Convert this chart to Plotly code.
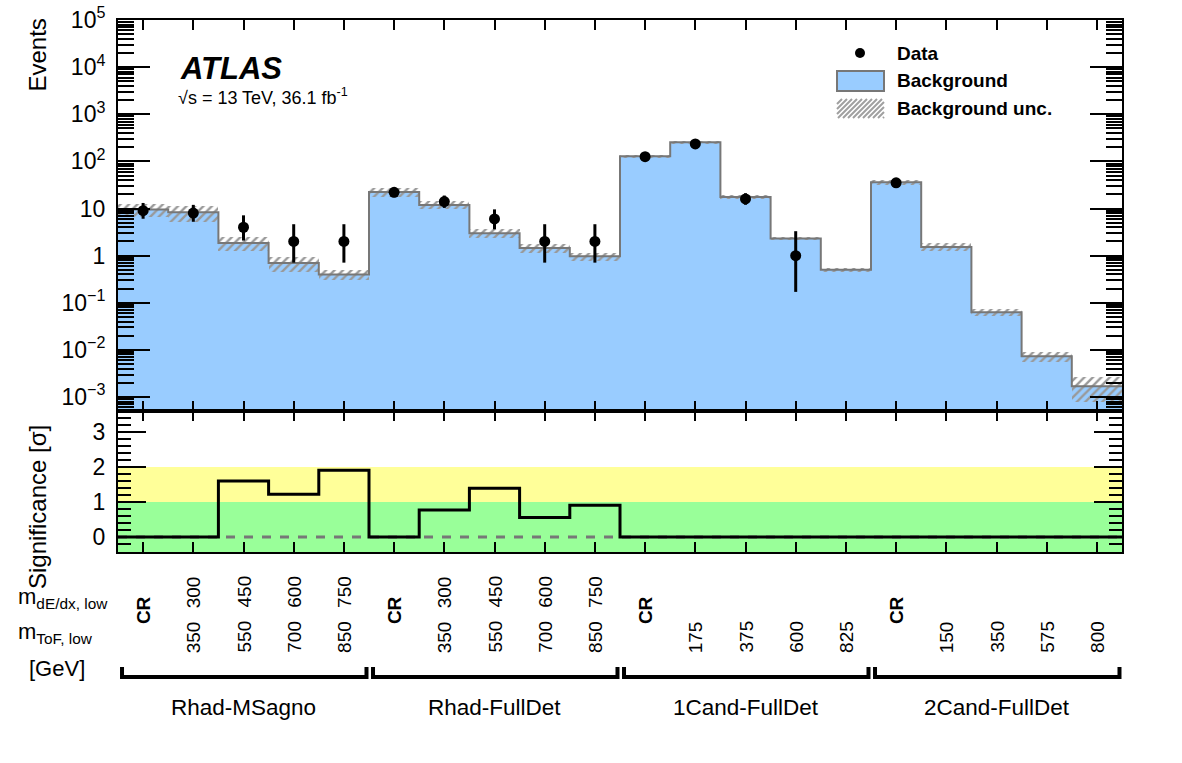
import plotly.graph_objects as go

# ---------------- data ----------------
groups = ["Rhad-MSagno", "Rhad-FullDet", "1Cand-FullDet", "2Cand-FullDet"]
m_dedx_low = ["CR", "300", "450", "600", "750",
              "CR", "300", "450", "600", "750",
              "CR", "", "", "", "",
              "CR", "", "", "", ""]
m_tof_low = ["", "350", "550", "700", "850",
             "", "350", "550", "700", "850",
             "", "175", "375", "600", "825",
             "", "150", "350", "575", "800"]
background = [9.5, 8.3, 1.86, 0.70, 0.40,
              22.5, 11.9, 3.0, 1.46, 0.97,
              128, 254, 17.6, 2.3, 0.50,
              36, 1.53, 0.063, 0.0073, 0.0017]
bkg_unc = [3.0, 3.0, 0.6, 0.25, 0.09,
           5.0, 2.2, 0.6, 0.33, 0.19,
           10, 20, 1.5, 0.2, 0.04,
           5.0, 0.28, 0.011, 0.0018, 0.0009]
data = [9, 8, 4, 2, 2,
        22, 14, 6, 2, 2,
        126, 235, 16, 1, None,
        35, None, None, None, None]
data_err_up = [4.11, 3.95, 3.16, 2.64, 2.64,
               5.77, 4.84, 3.58, 2.64, 2.64,
               12.26, 16.35, 5.09, 2.30, 0,
               6.98, 0, 0, 0, 0]
data_err_dn = [2.94, 2.77, 1.91, 1.29, 1.29,
               4.66, 3.71, 2.38, 1.29, 1.29,
               11.21, 15.32, 3.97, 0.83, 0,
               5.89, 0, 0, 0, 0]
significance = [0, 0, 1.6, 1.22, 1.91,
                0, 0.77, 1.39, 0.56, 0.91,
                0, 0, 0, 0, 0,
                0, 0, 0, 0, 0]
ytick_vals = [1e-3, 1e-2, 1e-1, 1, 10, 1e2, 1e3, 1e4, 1e5]
ytick_text = ["10<sup>\u22123</sup>", "10<sup>\u22122</sup>", "10<sup>\u22121</sup>", "1", "10",
              "10<sup>2</sup>", "10<sup>3</sup>", "10<sup>4</sup>", "10<sup>5</sup>"]

nb = len(background)
centers = [i + 0.5 for i in range(nb)]
edges = list(range(nb + 1))

W, H = 1182, 763
def px(x):
    return x / W
def py(y):
    return 1 - y / H

FONT = "Liberation Sans, Arial, Helvetica, sans-serif"
BLUE = "#99ccff"
GREY = "#777777"
HATCH = "#999999"

fig = go.Figure()

# background fill
fig.add_trace(go.Bar(x=centers, y=background, width=1.0, marker=dict(color=BLUE, line=dict(width=0)),
                     xaxis="x", yaxis="y", showlegend=False, hoverinfo="skip"))
# uncertainty hatch
lo = [b - u for b, u in zip(background, bkg_unc)]
span = [2 * u for u in bkg_unc]
fig.add_trace(go.Bar(x=centers, y=span, base=lo, width=1.0,
                     marker=dict(color=HATCH, line=dict(width=0),
                                 pattern=dict(shape="/", size=6, solidity=0.4, fillmode="replace")),
                     xaxis="x", yaxis="y", showlegend=False, hoverinfo="skip"))
# outline
fig.add_trace(go.Scatter(x=edges, y=background + [background[-1]], mode="lines",
                         line=dict(color=GREY, width=2, shape="hv"),
                         xaxis="x", yaxis="y", showlegend=False, hoverinfo="skip"))
# data
fig.add_trace(go.Scatter(x=centers, y=data, mode="markers",
                         marker=dict(color="black", size=11),
                         error_y=dict(type="data", symmetric=False, array=data_err_up,
                                      arrayminus=data_err_dn, color="black", thickness=3, width=0),
                         xaxis="x", yaxis="y", showlegend=False))

# lower panel: zero line and significance
fig.add_trace(go.Scatter(x=[edges[0], edges[-1]], y=[0, 0], mode="lines",
                         line=dict(color="#777777", width=3, dash="dash"),
                         xaxis="x2", yaxis="y2", showlegend=False, hoverinfo="skip"))
fig.add_trace(go.Scatter(x=edges, y=significance + [significance[-1]], mode="lines",
                         line=dict(color="black", width=3, shape="hv"),
                         xaxis="x2", yaxis="y2", showlegend=False, hoverinfo="skip"))

shapes = []
# sigma bands
shapes.append(dict(type="rect", xref="x2", yref="y2", x0=0, x1=20, y0=-1, y1=1,
                   fillcolor="#99ff99", line=dict(width=0), layer="below"))
shapes.append(dict(type="rect", xref="x2", yref="y2", x0=0, x1=20, y0=1, y1=2,
                   fillcolor="#ffff99", line=dict(width=0), layer="below"))
shapes.append(dict(type="rect", xref="x2", yref="y2", x0=0, x1=20, y0=-2, y1=-1,
                   fillcolor="#ffff99", line=dict(width=0), layer="below"))

# group brackets
for g in range(len(groups)):
    a, b = g * 5 + 0.08, g * 5 + 4.95
    shapes.append(dict(type="path", xref="x", yref="paper",
                       path=f"M {a} {py(667)} L {a} {py(677)} L {b} {py(677)} L {b} {py(667)}",
                       line=dict(color="black", width=4)))

# legend swatches
shapes.append(dict(type="circle", xref="paper", yref="paper",
                   x0=px(855), x1=px(865), y0=py(58), y1=py(48),
                   fillcolor="black", line=dict(color="black", width=0)))
shapes.append(dict(type="rect", xref="paper", yref="paper",
                   x0=px(837), x1=px(884), y0=py(91), y1=py(71),
                   fillcolor=BLUE, line=dict(color=GREY, width=2)))
# hatched swatch built from diagonal segments clipped to box
bx0, bx1, by0, by1 = 837, 884, 99, 118
segs = []
step = 5
k = bx0 - (by1 - by0)
while k < bx1:
    x_start, y_start = k, by1
    x_end, y_end = k + (by1 - by0), by0
    if x_start < bx0:
        y_start = by1 - (bx0 - x_start)
        x_start = bx0
    if x_end > bx1:
        y_end = by0 + (x_end - bx1)
        x_end = bx1
    if x_end > x_start:
        segs.append(f"M {px(x_start):.5f} {py(y_start):.5f} L {px(x_end):.5f} {py(y_end):.5f}")
    k += step
shapes.append(dict(type="path", xref="paper", yref="paper", path=" ".join(segs),
                   line=dict(color="#a0a0a0", width=2)))

annotations = []
def ann(text, x, y, size, xref="paper", xanchor="center", yanchor="middle", angle=0, bold=False):
    if bold:
        text = f"<b>{text}</b>"
    annotations.append(dict(text=text, x=x, y=y, xref=xref, yref="paper", showarrow=False,
                            xanchor=xanchor, yanchor=yanchor, textangle=angle,
                            font=dict(family=FONT, size=size, color="black")))

# ATLAS label
ann("<b><i>ATLAS</i></b>", px(178), py(69), 31, xanchor="left")
ann("\u221as = 13 TeV, 36.1 fb<sup>-1</sup>", px(176), py(97), 18, xanchor="left")
# legend text
ann("Data", px(895), py(53), 19, xanchor="left", bold=True)
ann("Background", px(895), py(80), 19, xanchor="left", bold=True)
ann("Background unc.", px(895), py(108), 19, xanchor="left", bold=True)
# axis titles
ann("Events", px(37), py(17), 24, xanchor="center", yanchor="top", angle=-90)
ann("Significance [\u03c3]", px(37), py(507), 24, xanchor="center", yanchor="middle", angle=-90)
# bottom-left labels
ann("m<sub>dE/dx, low</sub>", px(16), py(598), 22, xanchor="left")
ann("m<sub>ToF, low</sub>", px(16), py(633), 22, xanchor="left")
ann("[GeV]", px(57), py(668), 22, xanchor="center")
# rotated bin labels
for i in range(nb):
    if m_dedx_low[i] == "CR":
        ann("CR", centers[i], py(610), 19, xref="x", angle=-90, bold=True)
        continue
    if m_dedx_low[i]:
        ann(m_dedx_low[i], centers[i], py(592), 19, xref="x", angle=-90)
    if m_tof_low[i]:
        ann(m_tof_low[i], centers[i], py(637), 19, xref="x", angle=-90)
# group names
for g, name in enumerate(groups):
    ann(name, g * 5 + 2.5, py(707), 22.5, xref="x")

xdom = [px(118), px(1122)]
base_axis = dict(showline=True, linecolor="black", linewidth=2, mirror="ticks",
                 ticks="inside", tickcolor="black", showgrid=False, zeroline=False,
                 automargin=False)
yfont = dict(family=FONT, size=23, color="black")

fig.update_layout(
    width=W, height=H,
    margin=dict(l=0, r=0, t=0, b=0, pad=0, autoexpand=False),
    paper_bgcolor="white", plot_bgcolor="white",
    barmode="overlay", bargap=0,
    showlegend=False,
    xaxis=dict(domain=xdom, range=[0, 20], anchor="y", tickvals=centers, showticklabels=False,
               ticklen=10, tickwidth=2, **base_axis),
    xaxis2=dict(domain=xdom, range=[0, 20], anchor="y2", matches="x", tickvals=centers, showticklabels=False,
                ticklen=10, tickwidth=2, **base_axis),
    yaxis=dict(domain=[py(411), py(20)], type="log", range=[-3.297, 5], anchor="x",
               tickmode="array", tickvals=ytick_vals, ticktext=ytick_text,
               ticklen=32, tickwidth=2, tickfont=yfont,
               minor=dict(ticks="inside", ticklen=16, tickwidth=1.5, tickcolor="black", dtick="D1"),
               ticklabelstandoff=6, **base_axis),
    yaxis2=dict(domain=[py(552), py(411)], range=[-0.4286, 3.6], anchor="x2",
                tickmode="array", tickvals=[0, 1, 2, 3], tickfont=yfont,
                ticklen=28, tickwidth=2,
                minor=dict(ticks="inside", ticklen=13, tickwidth=1.5, tickcolor="black", dtick=0.2, tick0=0),
                ticklabelstandoff=6, **base_axis),
    shapes=shapes,
    annotations=annotations,
)

fig.write_html("out.html")
